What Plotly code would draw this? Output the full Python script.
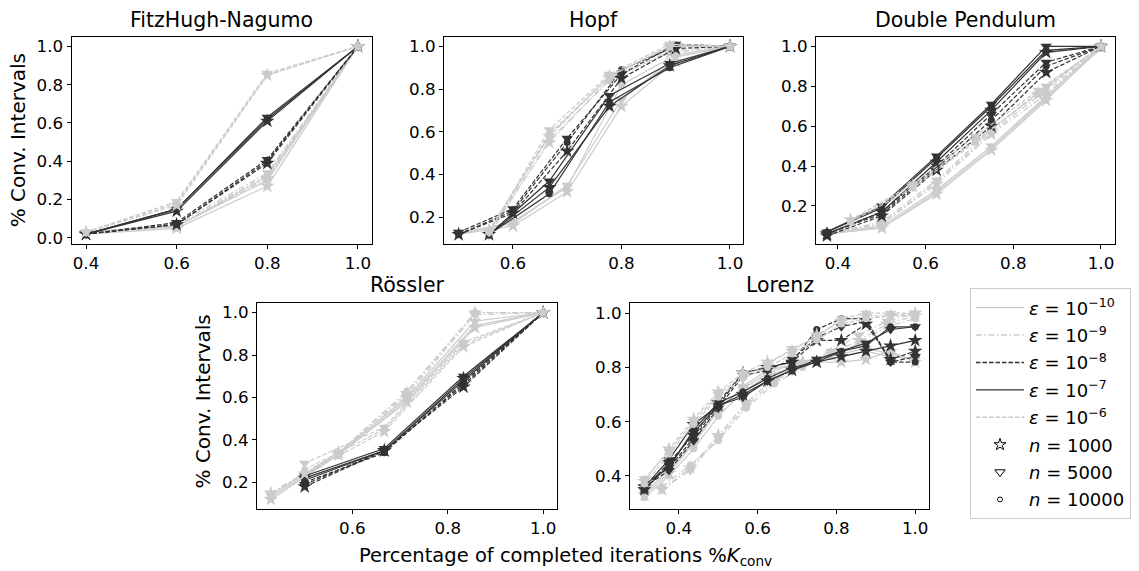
import plotly.graph_objects as go

# ---------------- labels ----------------
TITLES = ["FitzHugh-Nagumo", "Hopf", "Double Pendulum", "Rössler", "Lorenz"]
EPS_LABELS = ["<i>ε</i> = 10<sup>−10</sup>", "<i>ε</i> = 10<sup>−9</sup>", "<i>ε</i> = 10<sup>−8</sup>",
              "<i>ε</i> = 10<sup>−7</sup>", "<i>ε</i> = 10<sup>−6</sup>"]
N_LABELS = ["<i>n</i> = 1000", "<i>n</i> = 5000", "<i>n</i> = 10000"]
Y_LABEL = "% Conv. Intervals"
X_LABEL = "Percentage of completed iterations %<i>K</i><sub>conv</sub>"

# ---------------- FitzHugh-Nagumo ----------------
FHN_X = [0.4, 0.6, 0.8, 1.0]
# each list: [n=1000, n=5000, n=10000]
FHN_E10 = [[0.02, 0.05, 0.27, 1.0], [0.03, 0.06, 0.30, 1.0], [0.03, 0.06, 0.32, 1.0]]
FHN_E9 = [[0.02, 0.06, 0.31, 1.0], [0.03, 0.07, 0.34, 1.0], [0.03, 0.06, 0.33, 1.0]]
FHN_E8 = [[0.02, 0.07, 0.39, 1.0], [0.02, 0.08, 0.41, 1.0], [0.02, 0.07, 0.40, 1.0]]
FHN_E7 = [[0.02, 0.14, 0.61, 1.0], [0.02, 0.15, 0.63, 1.0], [0.02, 0.15, 0.62, 1.0]]
FHN_E6 = [[0.03, 0.17, 0.85, 1.0], [0.03, 0.19, 0.86, 1.0], [0.03, 0.18, 0.85, 1.0]]

# ---------------- Hopf ----------------
HOPF_XA = [0.5, 0.6, 0.7, 0.8, 0.9, 1.0]
HOPF_XB = [0.556, 0.667, 0.778, 0.889, 1.0]
HOPF_E10 = [[0.12, 0.16, 0.32, 0.72, 0.93, 1.0], [0.13, 0.17, 0.35, 0.75, 0.95, 1.0], [0.12, 0.18, 0.34, 0.82, 0.96, 1.0]]
HOPF_E9 = [[0.13, 0.55, 0.85, 0.97, 1.0], [0.13, 0.58, 0.86, 1.0, 1.0], [0.12, 0.56, 0.84, 0.98, 1.0]]
HOPF_E8 = [[0.12, 0.22, 0.51, 0.85, 0.99, 1.0], [0.13, 0.24, 0.57, 0.87, 1.01, 1.0], [0.12, 0.23, 0.55, 0.89, 1.0, 1.0]]
HOPF_E7 = [[0.12, 0.34, 0.72, 0.91, 1.0], [0.12, 0.37, 0.77, 0.92, 1.0], [0.12, 0.31, 0.74, 0.90, 1.0]]
HOPF_E6 = [[0.14, 0.58, 0.86, 1.0, 1.0], [0.13, 0.61, 0.87, 1.01, 1.0], [0.13, 0.59, 0.86, 1.0, 1.0]]

# ---------------- Double Pendulum ----------------
DP_XA = [0.375, 0.5, 0.625, 0.75, 0.875, 1.0]
DP_XB = [0.429, 0.571, 0.714, 0.857, 1.0]
DP_E10 = [[0.06, 0.09, 0.26, 0.48, 0.73, 1.0], [0.06, 0.10, 0.28, 0.50, 0.75, 1.0], [0.06, 0.09, 0.27, 0.49, 0.74, 0.99]]
DP_E9 = [[0.06, 0.11, 0.31, 0.56, 0.76, 1.0], [0.06, 0.12, 0.33, 0.58, 0.80, 1.0], [0.06, 0.11, 0.32, 0.57, 0.78, 0.99]]
DP_E8 = [[0.05, 0.15, 0.38, 0.60, 0.87, 1.0], [0.06, 0.17, 0.40, 0.66, 0.92, 1.0], [0.06, 0.16, 0.39, 0.63, 0.90, 1.0]]
DP_E7 = [[0.06, 0.17, 0.42, 0.68, 0.97, 1.0], [0.07, 0.20, 0.45, 0.71, 1.0, 1.0], [0.07, 0.19, 0.44, 0.70, 0.98, 1.0]]
DP_E6 = [[0.13, 0.30, 0.53, 0.76, 1.0], [0.13, 0.31, 0.55, 0.78, 1.0], [0.12, 0.29, 0.52, 0.77, 1.0]]

# ---------------- Rössler ----------------
ROS_XA = [0.429, 0.571, 0.714, 0.857, 1.0]
ROS_XB = [0.5, 0.667, 0.833, 1.0]
ROS_E10 = [[0.12, 0.33, 0.58, 0.93, 1.0], [0.14, 0.34, 0.60, 0.96, 1.0], [0.13, 0.33, 0.59, 0.94, 1.0]]
ROS_E9 = [[0.15, 0.34, 0.62, 1.0, 1.0], [0.15, 0.33, 0.61, 0.99, 1.0], [0.14, 0.34, 0.63, 1.0, 1.0]]
ROS_E8 = [[0.18, 0.35, 0.65, 1.0], [0.19, 0.35, 0.66, 1.0], [0.20, 0.34, 0.67, 1.0]]
ROS_E7 = [[0.22, 0.35, 0.69, 1.0], [0.23, 0.36, 0.70, 1.0], [0.21, 0.35, 0.68, 1.0]]
ROS_E6 = [[0.24, 0.44, 0.84, 1.0], [0.29, 0.46, 0.86, 1.0], [0.26, 0.45, 0.85, 1.0]]

# ---------------- Lorenz ----------------
LOR_XA = [0.3125, 0.375, 0.4375, 0.5, 0.5625, 0.625, 0.6875, 0.75, 0.8125, 0.875, 0.9375, 1.0]
LOR_XB = [0.357, 0.429, 0.5, 0.571, 0.643, 0.714, 0.786, 0.857, 0.929, 1.0]
LOR_E10 = [[0.33, 0.41, 0.52, 0.64, 0.73, 0.79, 0.81, 0.82, 0.82, 0.83, 0.86, 0.82],
           [0.34, 0.42, 0.53, 0.65, 0.72, 0.78, 0.81, 0.83, 0.85, 0.87, 0.85, 0.83],
           [0.32, 0.40, 0.50, 0.62, 0.71, 0.77, 0.80, 0.82, 0.84, 0.86, 0.84, 0.83]]
LOR_E9 = [[0.35, 0.43, 0.55, 0.67, 0.76, 0.82, 0.85, 0.90, 0.96, 0.99],
          [0.35, 0.42, 0.54, 0.66, 0.75, 0.81, 0.86, 0.92, 0.97, 1.00],
          [0.36, 0.44, 0.53, 0.65, 0.74, 0.80, 0.84, 0.89, 0.95, 0.98]]
LOR_E8 = [[0.35, 0.45, 0.55, 0.67, 0.78, 0.80, 0.82, 0.90, 0.90, 0.96, 0.83, 0.86],
          [0.36, 0.42, 0.53, 0.65, 0.77, 0.79, 0.83, 0.91, 0.95, 0.97, 0.82, 0.84],
          [0.37, 0.43, 0.54, 0.66, 0.78, 0.80, 0.82, 0.94, 0.98, 0.98, 0.82, 0.82]]
LOR_E7 = [[0.36, 0.46, 0.59, 0.66, 0.70, 0.75, 0.79, 0.82, 0.84, 0.86, 0.88, 0.90],
          [0.35, 0.44, 0.56, 0.66, 0.69, 0.75, 0.79, 0.83, 0.86, 0.89, 0.94, 0.95],
          [0.37, 0.43, 0.57, 0.67, 0.71, 0.76, 0.80, 0.82, 0.86, 0.88, 0.95, 0.95]]
LOR_E6 = [[0.38, 0.50, 0.61, 0.71, 0.78, 0.82, 0.86, 0.92, 0.97, 0.99, 0.99, 1.00],
          [0.39, 0.49, 0.60, 0.70, 0.77, 0.81, 0.87, 0.91, 0.98, 1.00, 1.00, 1.00],
          [0.37, 0.48, 0.59, 0.69, 0.76, 0.80, 0.85, 0.90, 0.96, 0.98, 0.99, 0.99]]

# ticks
FHN_XT = [0.4, 0.6, 0.8, 1.0]
FHN_YT = [0.0, 0.2, 0.4, 0.6, 0.8, 1.0]
HOPF_XT = [0.6, 0.8, 1.0]
DP_XT = [0.4, 0.6, 0.8, 1.0]
STD_YT = [0.2, 0.4, 0.6, 0.8, 1.0]
ROS_XT = [0.6, 0.8, 1.0]
LOR_XT = [0.4, 0.6, 0.8, 1.0]
LOR_YT = [0.4, 0.6, 0.8, 1.0]

# ---------------- styling ----------------
LIGHT = "#cbcbcb"
DARK = "#333333"
DASH = "4.5px,2px"
DASHDOT = "6px,2.5px,1.5px,2.5px"
EPS_STYLE = [(LIGHT, "solid"), (LIGHT, DASHDOT), (DARK, DASH), (DARK, "solid"), (LIGHT, DASH)]
N_SYMBOL = ["star", "triangle-down", "circle"]
N_SIZE = [11, 10, 7]
FONT = "DejaVu Sans"
W, H = 1139, 571

panels = [
    dict(xs=[FHN_X] * 5, data=[FHN_E10, FHN_E9, FHN_E8, FHN_E7, FHN_E6],
         xdom=(71.5, 372), row=0, xr=[0.368, 1.031], yr=[-0.031, 1.047], xt=FHN_XT, yt=FHN_YT),
    dict(xs=[HOPF_XA, HOPF_XB, HOPF_XA, HOPF_XB, HOPF_XB], data=[HOPF_E10, HOPF_E9, HOPF_E8, HOPF_E7, HOPF_E6],
         xdom=(444, 743), row=0, xr=[0.473, 1.024], yr=[0.076, 1.042], xt=HOPF_XT, yt=STD_YT),
    dict(xs=[DP_XA, DP_XA, DP_XA, DP_XA, DP_XB], data=[DP_E10, DP_E9, DP_E8, DP_E7, DP_E6],
         xdom=(816, 1115), row=0, xr=[0.35, 1.032], yr=[0.010, 1.045], xt=DP_XT, yt=STD_YT),
    dict(xs=[ROS_XA, ROS_XA, ROS_XB, ROS_XB, ROS_XB], data=[ROS_E10, ROS_E9, ROS_E8, ROS_E7, ROS_E6],
         xdom=(257, 557), row=1, xr=[0.40, 1.029], yr=[0.077, 1.047], xt=ROS_XT, yt=STD_YT),
    dict(xs=[LOR_XA, LOR_XB, LOR_XA, LOR_XA, LOR_XA], data=[LOR_E10, LOR_E9, LOR_E8, LOR_E7, LOR_E6],
         xdom=(630, 929), row=1, xr=[0.276, 1.035], yr=[0.28, 1.039], xt=LOR_XT, yt=LOR_YT),
]
ROW_Y = [(36.7, 245), (304.3, 512)]

fig = go.Figure()
layout = dict(width=W, height=H, margin=dict(l=0, r=0, t=0, b=0),
              paper_bgcolor="white", plot_bgcolor="white",
              font=dict(family=FONT, color="black"))
annotations = []

for i, p in enumerate(panels):
    k = "" if i == 0 else str(i + 1)
    xa, ya = "x" + k, "y" + k
    for e in range(5):
        color, dash = EPS_STYLE[e]
        for n in range(3):
            fig.add_trace(go.Scatter(
                x=p["xs"][e], y=p["data"][e][n], xaxis=xa, yaxis=ya, mode="lines+markers",
                line=dict(color=color, width=1.2, dash=dash),
                marker=dict(symbol=N_SYMBOL[n], size=N_SIZE[n], color=color, line=dict(width=0)),
                showlegend=False))
    top, bot = ROW_Y[p["row"]]
    x0, x1 = p["xdom"]
    axis_common = dict(showline=True, mirror=True, linecolor="black", linewidth=1,
                       ticks="outside", ticklen=4, tickwidth=1, tickcolor="black",
                       showgrid=False, zeroline=False,
                       tickfont=dict(size=16.7, family=FONT, color="black"))
    layout["xaxis" + k] = dict(domain=[x0 / W, x1 / W], anchor=ya, range=p["xr"],
                               tickvals=p["xt"], ticktext=[f"{v:.1f}" for v in p["xt"]], **axis_common)
    layout["yaxis" + k] = dict(domain=[1 - bot / H, 1 - top / H], anchor=xa, range=p["yr"],
                               tickvals=p["yt"], ticktext=[f"{v:.1f}" for v in p["yt"]], **axis_common)
    title_y = 19.5 if p["row"] == 0 else 287
    annotations.append(dict(text=TITLES[i], x=(x0 + x1) / 2 / W, y=1 - title_y / H, xref="paper", yref="paper",
                            xanchor="center", yanchor="middle", showarrow=False,
                            font=dict(size=20.5, family=FONT, color="black", weight="normal")))

# legend dummies
for e in range(5):
    color, dash = EPS_STYLE[e]
    fig.add_trace(go.Scatter(x=[None], y=[None], mode="lines", name=EPS_LABELS[e], legendgroup=f"e{e}",
                             line=dict(color=color, width=1.4, dash=dash), xaxis="x5", yaxis="y5"))
for n in range(3):
    fig.add_trace(go.Scatter(x=[None], y=[None], mode="markers", name=N_LABELS[n], legendgroup=f"n{n}",
                             marker=dict(symbol=N_SYMBOL[n] + "-open", size=[9, 9, 5][n], color="black",
                                         line=dict(width=1, color="black")),
                             xaxis="x5", yaxis="y5"))

# axis labels
annotations.append(dict(text=Y_LABEL, x=18 / W, y=1 - 140.5 / H, xref="paper", yref="paper", textangle=-90,
                        xanchor="center", yanchor="middle", showarrow=False,
                        font=dict(size=20, family=FONT, color="black")))
annotations.append(dict(text=Y_LABEL, x=203 / W, y=1 - 404 / H, xref="paper", yref="paper", textangle=-90,
                        xanchor="center", yanchor="middle", showarrow=False,
                        font=dict(size=20, family=FONT, color="black")))
annotations.append(dict(text=X_LABEL, x=565 / W, y=1 - 560 / H, xref="paper", yref="paper",
                        xanchor="center", yanchor="middle", showarrow=False,
                        font=dict(size=19.5, family=FONT, color="black")))

layout["annotations"] = annotations
layout["legend"] = dict(x=970 / W, y=1 - 290 / H, xanchor="left", yanchor="top",
                        bordercolor="#cccccc", borderwidth=1, bgcolor="white",
                        font=dict(size=18, family=FONT, color="black"),
                        tracegroupgap=1, itemwidth=48)
layout["showlegend"] = True
fig.update_layout(**layout)
fig.write_html("out.html")
